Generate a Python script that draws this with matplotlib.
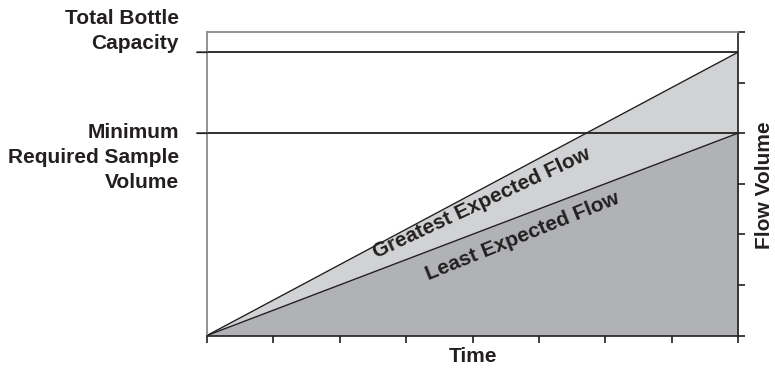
import matplotlib
matplotlib.use("Agg")
import matplotlib.pyplot as plt

# data (arbitrary units)
time_points = [0, 8]
greatest_flow = [0, 5.6]
least_flow = [0, 4.0]
bottle_capacity = 5.6
min_sample_volume = 4.0
x_ticks = [0, 1, 2, 3, 4, 5, 6, 7, 8]
y_ticks = [0, 1, 2, 3, 4, 5, 6]

plt.rcParams['font.family'] = ['Liberation Sans', 'DejaVu Sans']
txt_color = '#231f20'

fig = plt.figure(figsize=(7.75, 3.71), dpi=100)
ax = fig.add_axes([207 / 775, 1 - 335.5 / 371, 531 / 775, 303.5 / 371])

# filled areas
ax.fill_between(time_points, 0, greatest_flow, color='#d1d2d4', lw=0)
ax.fill_between(time_points, 0, least_flow, color='#b1b2b5', lw=0)
ax.plot(time_points, greatest_flow, color='#231f20', lw=1.0)
ax.plot(time_points, least_flow, color='#231f20', lw=1.0)

# reference levels
ax.axhline(bottle_capacity, color='#231f20', lw=1.3)
ax.axhline(min_sample_volume, color='#231f20', lw=1.3)

ax.set_xlim(time_points[0], time_points[-1])
ax.set_ylim(y_ticks[0], y_ticks[-1])

# spines
for side in ['left', 'top']:
    ax.spines[side].set_color('#8a8a8a')
    ax.spines[side].set_linewidth(1.3)
for side in ['right', 'bottom']:
    ax.spines[side].set_color('#231f20')
    ax.spines[side].set_linewidth(1.2)

ax.set_xticks(x_ticks)
ax.set_xticklabels([])
ax.tick_params(axis='x', direction='out', length=5, width=1.2, color='#231f20')

# right side ticks
ax.yaxis.tick_right()
ax.set_yticks(y_ticks)
ax.set_yticklabels([])
ax.tick_params(axis='y', direction='out', length=5, width=1.2, color='#231f20')

# left ticks at the reference levels
for lvl in [bottle_capacity, min_sample_volume]:
    ax.annotate('', xy=(0, lvl), xycoords=('axes fraction', 'data'),
                xytext=(-10, 0), textcoords='offset pixels',
                arrowprops=dict(arrowstyle='-', color='#231f20', lw=1.3,
                                shrinkA=0, shrinkB=0))

ax.annotate('Total Bottle\nCapacity', xy=(0, bottle_capacity),
            xycoords=('axes fraction', 'data'), xytext=(-28, 21),
            textcoords='offset pixels', ha='right', va='center',
            multialignment='right', fontsize=15, fontweight='bold',
            color=txt_color, linespacing=1.38)
ax.annotate('Minimum\nRequired Sample\nVolume', xy=(0, min_sample_volume),
            xycoords=('axes fraction', 'data'), xytext=(-28, -24.5),
            textcoords='offset pixels', ha='right', va='center',
            multialignment='right', fontsize=15, fontweight='bold',
            color=txt_color, linespacing=1.38)

ax.text(4.14, 2.62, 'Greatest Expected Flow', rotation=25, rotation_mode='anchor',
        ha='center', va='center', fontsize=15, fontweight='bold', color=txt_color)
ax.text(4.76, 1.95, 'Least Expected Flow', rotation=22, rotation_mode='anchor',
        ha='center', va='center', fontsize=15, fontweight='bold', color=txt_color)

fig.text(473 / 775, 1 - 356 / 371, 'Time', ha='center', va='center',
         fontsize=15, fontweight='bold', color=txt_color)
fig.text(765 / 775, 1 - 185 / 371, 'Flow Volume', rotation=90, ha='center',
         va='center', fontsize=15, fontweight='bold', color=txt_color)

fig.savefig('out.png', dpi=100)
